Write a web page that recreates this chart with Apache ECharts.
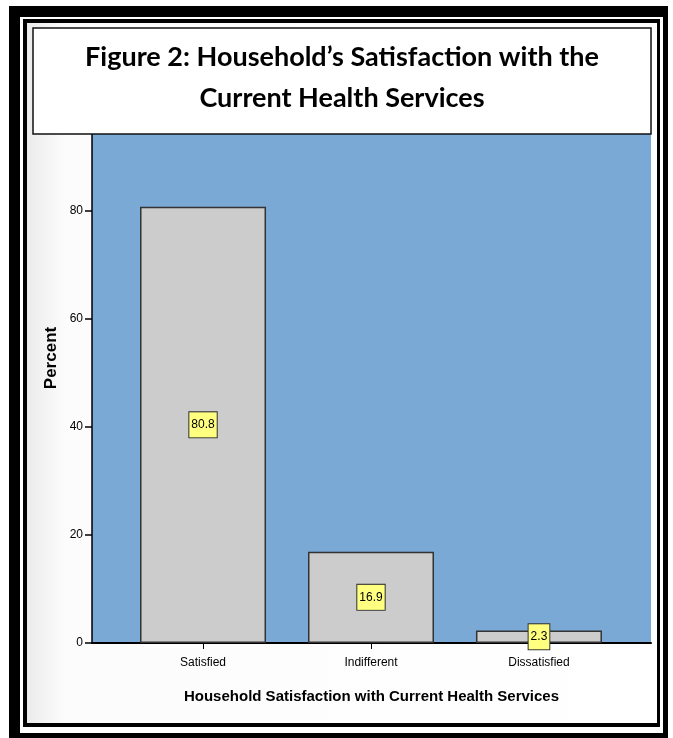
<!DOCTYPE html>
<html>
<head>
<meta charset="utf-8">
<script src="https://cdn.jsdelivr.net/npm/echarts@6/dist/echarts.min.js"></script>
<style>
  html, body { margin: 0; padding: 0; background: #fff; }
  #main { width: 673px; height: 738px; }
</style>
</head>
<body>
<div id="main"></div>
<script>
// data
const categories = ['Satisfied', 'Indifferent', 'Dissatisfied'];
const percents = [80.8, 16.9, 2.3];
const titleLines = ['Figure 2: Household\u2019s Satisfaction with the', 'Current Health Services'];
const xName = 'Household Satisfaction with Current Health Services';
const yName = 'Percent';

const narrow = "'Liberation Sans Narrow', 'Arial Narrow', 'Liberation Sans', sans-serif";

const chart = echarts.init(document.getElementById('main'), null, { renderer: 'canvas' });

const option = {
  backgroundColor: '#fff',
  animation: false,
  grid: {
    left: 92, right: 22, top: 103, bottom: 95,
    show: true, backgroundColor: '#7aa9d6', borderWidth: 0
  },
  xAxis: {
    type: 'value',
    min: -0.661, max: 2.667,
    name: xName,
    nameLocation: 'middle',
    nameGap: 46,
    nameTextStyle: { fontFamily: narrow, fontWeight: 'bold', fontSize: 15, color: '#000' },
    axisLine: { show: true, onZero: false, lineStyle: { color: '#000', width: 2 } },
    axisTick: { show: true, length: 6, customValues: [0, 1, 2], lineStyle: { color: '#000', width: 1 } },
    axisLabel: {
      customValues: [0, 1, 2],
      formatter: v => categories[Math.round(v)],
      margin: 14, fontFamily: narrow, fontSize: 12, color: '#000'
    },
    splitLine: { show: false }
  },
  yAxis: {
    type: 'value',
    min: 0, max: 100, interval: 20,
    axisLine: { show: true, onZero: false, lineStyle: { color: '#000', width: 1.5 } },
    axisTick: { show: true, length: 7, lineStyle: { color: '#000', width: 1.5 } },
    axisLabel: { margin: 9, fontFamily: narrow, fontSize: 12, color: '#000' },
    splitLine: { show: false }
  },
  series: [{
    type: 'bar',
    data: percents.map((v, i) => [i, v]),
    barWidth: 126,
    itemStyle: { color: '#cccccc', borderColor: '#333', borderWidth: 1.5 },
    label: {
      show: true,
      position: 'inside',
      formatter: p => percents[p.dataIndex].toFixed(1),
      fontFamily: narrow, fontSize: 12, color: '#000',
      backgroundColor: '#ffff80', borderColor: '#333', borderWidth: 1,
      padding: [7, 2, 6, 2]
    }
  }],
  graphic: [
    // frame
    { type: 'rect', z: -10, shape: { x: 9, y: 6, width: 659, height: 740 }, style: { fill: '#000' } },
    { type: 'rect', z: -10, shape: { x: 20, y: 17, width: 643, height: 716 }, style: { fill: '#fff' } },
    { type: 'rect', z: -10, shape: { x: 23, y: 19, width: 637, height: 708 }, style: { fill: '#000' } },
    {
      type: 'rect', z: -10, shape: { x: 27, y: 23, width: 630, height: 700 },
      style: {
        fill: new echarts.graphic.LinearGradient(0, 0, 1, 0, [
          { offset: 0, color: '#ebebeb' }, { offset: 0.06, color: '#fcfcfc' }, { offset: 1, color: '#fff' }
        ])
      }
    },
    // title box
    { type: 'rect', z: 100, shape: { x: 33, y: 28, width: 618, height: 106 }, style: { fill: '#fff', stroke: '#111', lineWidth: 1.5 } },
    { type: 'text', z: 101, x: 342, y: 57, style: { text: titleLines[0], font: "bold 27px Lato, 'Open Sans', sans-serif", fill: '#000', textAlign: 'center', textVerticalAlign: 'middle' } },
    { type: 'text', z: 101, x: 342, y: 98, style: { text: titleLines[1], font: "bold 27px Lato, 'Open Sans', sans-serif", fill: '#000', textAlign: 'center', textVerticalAlign: 'middle' } },
    // y axis name
    { type: 'text', z: 101, x: 51, y: 358, rotation: Math.PI / 2, style: { text: yName, font: "bold 17px 'Liberation Sans', Arial, sans-serif", fill: '#000', textAlign: 'center', textVerticalAlign: 'middle' } }
  ]
};

chart.setOption(option);
</script>
</body>
</html>
